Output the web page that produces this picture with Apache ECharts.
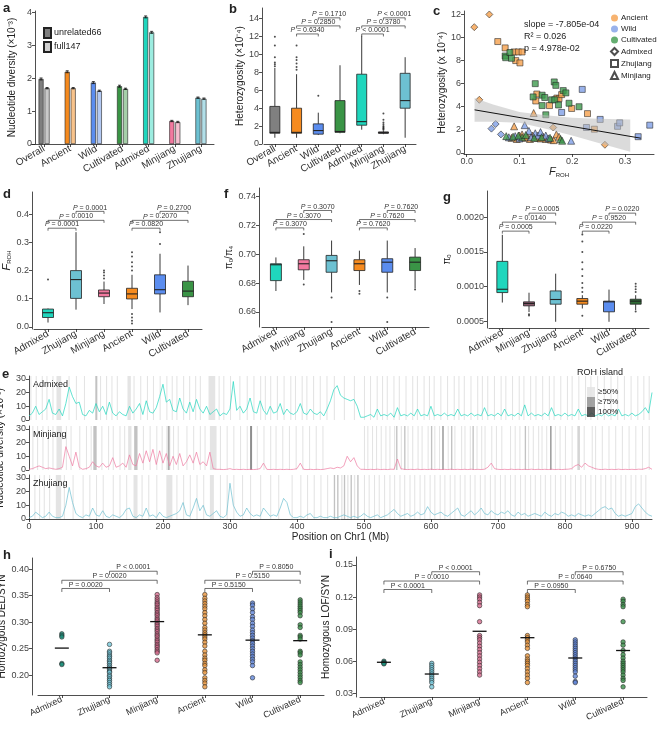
<!DOCTYPE html>
<html>
<head>
<meta charset="utf-8">
<script src="https://cdn.jsdelivr.net/npm/echarts@6/dist/echarts.min.js"></script>
<style>
html, body { margin: 0; padding: 0; background: #fff; }
#main { width: 657px; height: 731px; }
</style>
</head>
<body>
<div id="main"></div>
<script>
// ---------- panel a : nucleotide diversity ----------
var groupsA = ['Overall', 'Ancient', 'Wild', 'Cultivated', 'Admixed', 'Minjiang', 'Zhujiang'];
var piUnrelated = [1.98, 2.20, 1.87, 1.76, 3.87, 0.70, 1.41];
var piFull = [1.70, 1.70, 1.62, 1.68, 3.40, 0.67, 1.38];
var piErrUnrelated = [0.03, 0.03, 0.03, 0.03, 0.03, 0.02, 0.02];
var piErrFull = [0.02, 0.02, 0.02, 0.02, 0.03, 0.02, 0.02];
var darkCols = ['#7f7f7f', '#f58a1f', '#5b8def', '#399444', '#1fd6bd', '#f2799f', '#6dc1d2'];
var lightCols = ['#c9c9c9', '#f8c38c', '#b3c9f3', '#a5cfa8', '#9cece0', '#f7bfd0', '#b2dfe8'];
var ticksA = [0, 1, 2, 3, 4];

// ---------- panel b : heterozygosity boxes ----------
var hetBox = [
  [0.7, 1.2, 1.3, 4.2, 8.5],
  [0.7, 1.2, 1.3, 4.0, 7.8],
  [1.0, 1.1, 1.5, 2.25, 3.5],
  [1.2, 1.3, 1.4, 4.85, 8.8],
  [1.6, 2.1, 2.5, 7.8, 12.1],
  [1.1, 1.2, 1.25, 1.35, 1.5],
  [0.7, 4.0, 4.85, 7.9, 9.7]
];
var hetOut = [[0, 8.7], [0, 8.9], [0, 9.1], [0, 9.7], [0, 11.0], [0, 12.0],
  [1, 8.3], [1, 8.6], [1, 9.0], [1, 9.4], [1, 9.7], [1, 11.0],
  [2, 5.4], [5, 1.6], [5, 1.7], [5, 1.8], [5, 1.9], [5, 2.0], [5, 2.2], [5, 2.4], [5, 2.7], [5, 3.4]];
var hetCols = ['#808080', '#f68b1f', '#5b8def', '#3a9446', '#1fd6bd', '#3b2b33', '#6dc1d2'];
var hetP = [[1, 2, 12.3, '= 0.6340'], [1, 3, 13.2, '= 0.2850'], [2, 3, 14.1, '= 0.1710'],
  [4, 5, 12.3, '< 0.0001'], [4, 6, 13.2, '= 0.3780'], [5, 6, 14.1, '< 0.0001']];
var ticksB = [0, 2, 4, 6, 8, 10, 12, 14];

// ---------- panel c : heterozygosity vs F_ROH ----------
var cAncDia = [[0.0145, 10.9], [0.043, 12.0], [0.024, 4.6], [0.164, 2.2], [0.262, 0.7]];
var cWildDia = [[0.047, 2.1], [0.055, 2.5], [0.065, 1.6]];
var cAncSq = [[0.059, 9.65], [0.073, 9.1], [0.090, 8.75], [0.098, 8.75], [0.105, 8.75], [0.093, 8.0], [0.101, 7.8],
  [0.133, 5.1], [0.131, 4.5], [0.157, 4.1], [0.171, 4.75], [0.175, 4.7], [0.18, 5.05], [0.199, 3.85], [0.229, 3.4], [0.242, 2.05]];
var cCulSq = [[0.073, 8.4], [0.074, 8.25], [0.082, 8.7], [0.085, 8.2], [0.126, 4.85], [0.13, 6.0], [0.143, 5.0], [0.148, 4.8],
  [0.143, 4.1], [0.15, 3.3], [0.166, 6.15], [0.169, 5.85], [0.161, 4.6], [0.167, 4.6], [0.174, 4.15], [0.183, 5.4],
  [0.188, 5.2], [0.194, 4.3], [0.213, 4.0]];
var cWildSq = [[0.219, 5.5], [0.18, 3.5], [0.253, 2.9], [0.325, 1.4], [0.347, 2.4], [0.227, 2.2], [0.286, 2.3], [0.29, 2.6]];
var cAncTri = [[0.09, 2.3], [0.127, 3.45], [0.10, 1.5], [0.105, 1.6], [0.11, 1.3], [0.115, 1.4], [0.12, 1.2], [0.125, 1.5],
  [0.135, 1.3], [0.14, 1.25], [0.15, 1.2], [0.16, 1.15], [0.165, 1.1], [0.17, 1.6], [0.175, 1.4], [0.085, 1.3], [0.095, 1.2], [0.145, 1.4]];
var cWildTri = [[0.11, 2.4], [0.118, 1.9], [0.13, 1.7], [0.135, 1.5], [0.14, 1.8], [0.15, 1.5], [0.155, 1.25], [0.08, 1.35],
  [0.092, 1.45], [0.1, 1.25], [0.198, 1.05], [0.122, 1.35]];
var cCulTri = [[0.075, 1.45], [0.088, 1.4], [0.105, 1.35], [0.112, 1.55], [0.128, 1.3], [0.142, 1.35], [0.158, 1.3],
  [0.178, 1.2], [0.181, 1.05], [0.098, 1.5]];
var fitLine = [[0.015, 3.73], [0.33, 1.27]];
var bandX = [0.015, 0.05, 0.10, 0.15, 0.20, 0.25, 0.31];
var bandUpper = [4.75, 4.2, 3.55, 3.25, 3.05, 2.95, 2.9];
var bandLower = [2.7, 2.7, 2.6, 2.1, 1.5, 0.85, 0.1];
var ticksCx = [0, 0.1, 0.2, 0.3];
var ticksCy = [0, 2, 4, 6, 8, 10, 12];

// ---------- panel d : F_ROH ----------
var groupsD = ['Admixed', 'Zhujiang', 'Minjiang', 'Ancient', 'Wild', 'Cultivated'];
var colsD = ['#1fd6bd', '#6dc1d2', '#f2799f', '#f68b1f', '#5b8def', '#3a9446'];
var frohBox = [
  [0.015, 0.033, 0.05, 0.063, 0.065],
  [0.061, 0.101, 0.168, 0.2, 0.337],
  [0.081, 0.107, 0.12, 0.131, 0.161],
  [0.063, 0.099, 0.117, 0.137, 0.185],
  [0.051, 0.117, 0.132, 0.185, 0.26],
  [0.077, 0.107, 0.127, 0.162, 0.218]
];
var frohOut = [[0, 0.168], [2, 0.172], [2, 0.183], [2, 0.193], [2, 0.2],
  [3, 0.2], [3, 0.215], [3, 0.23], [3, 0.25], [3, 0.265], [3, 0.045], [3, 0.033], [3, 0.021], [3, 0.012],
  [4, 0.295], [4, 0.337]];
var frohP = [[0, 1, 0.351, '= 0.0001'], [0, 2, 0.379, '= 0.0010'], [1, 2, 0.411, '= 0.0001'],
  [3, 4, 0.351, '= 0.0820'], [3, 5, 0.379, '= 0.2070'], [4, 5, 0.411, '= 0.2700']];
var ticksD = [0, 0.1, 0.2, 0.3, 0.4];

// ---------- panel f : pi0/pi4 ----------
var groupsF = ['Admixed', 'Minjiang', 'Zhujiang', 'Ancient', 'Wild', 'Cultivated'];
var colsF = ['#1fd6bd', '#f2799f', '#6dc1d2', '#f68b1f', '#5b8def', '#3a9446'];
var ratioBox = [
  [0.6745, 0.6817, 0.6927, 0.6934, 0.6978],
  [0.6822, 0.6892, 0.6934, 0.6962, 0.7055],
  [0.6735, 0.6875, 0.6955, 0.6992, 0.7095],
  [0.6787, 0.6887, 0.6934, 0.6962, 0.7025],
  [0.6735, 0.6875, 0.6945, 0.6969, 0.7095],
  [0.6763, 0.6887, 0.6945, 0.698, 0.7043]
];
var ratioOut = [[1, 0.679], [1, 0.714], [2, 0.670], [2, 0.653], [3, 0.6745], [3, 0.6726], [4, 0.670], [4, 0.653], [5, 0.6755]];
var ratioP = [[0, 1, 0.7183, '= 0.3070'], [0, 2, 0.7241, '= 0.3070'], [1, 2, 0.7304, '= 0.3070'],
  [3, 4, 0.7183, '= 0.7620'], [3, 5, 0.7241, '= 0.7620'], [4, 5, 0.7304, '= 0.7620']];
var ticksF = [0.66, 0.68, 0.70, 0.72, 0.74];

// ---------- panel g : pi0 ----------
var colsG = ['#1fd6bd', '#8c5a6e', '#6dc1d2', '#f68b1f', '#5b8def', '#2e6b35'];
var pi0Box = [
  [0.000768, 0.000912, 0.00096, 0.001363, 0.001746],
  [0.00063, 0.00072, 0.000754, 0.000778, 0.00091],
  [0.00049, 0.000744, 0.000812, 0.000936, 0.001185],
  [0.000682, 0.000744, 0.000788, 0.000826, 0.000874],
  [0.00049, 0.000634, 0.000778, 0.000788, 0.000955],
  [0.000658, 0.000744, 0.000788, 0.000816, 0.000874]
];
var pi0Out = [[1, 0.0006], [1, 0.00058],
  [3, 0.000577], [3, 0.00092], [3, 0.00098], [3, 0.00105], [3, 0.00115], [3, 0.00125], [3, 0.00135], [3, 0.0015], [3, 0.00165], [3, 0.00175],
  [5, 0.00092], [5, 0.00096], [5, 0.001], [5, 0.00104], [5, 0.00064]];
var pi0P = [[0, 1, 0.0018, '= 0.0005'], [0, 2, 0.00193, '= 0.0140'], [1, 2, 0.00206, '= 0.0005'],
  [3, 4, 0.0018, '= 0.0220'], [3, 5, 0.00193, '= 0.9520'], [4, 5, 0.00206, '= 0.0220']];
var ticksG = [0.0005, 0.0010, 0.0015, 0.0020];

// ---------- panel e : diversity along Chr1 (5-Mb steps) ----------
var stepMb = 5;
var admixPi = [3, 5, 10, 4, 6, 8, 15, 5, 4, 8, 3, 12, 24, 17, 12, 13, 4, 3, 7, 5,
  12, 6, 10, 4, 13, 5, 3, 6, 4, 3, 10, 5, 8, 12, 4, 14, 6, 5, 9, 17,
  26, 13, 15, 7, 6, 16, 8, 5, 13, 6, 15, 8, 5, 10, 4, 6, 8, 3, 5, 4,
  8, 28, 7, 10, 5, 8, 16, 6, 5, 14, 7, 4, 10, 5, 6, 12, 4, 8, 5, 4,
  6, 12, 5, 4, 8, 5, 4, 6, 3, 8, 14, 22, 25, 18, 16, 15, 14, 15, 10, 2,
  2, 3, 4, 2, 8, 3, 4, 3, 5, 2, 9, 3, 4, 3, 5, 3, 8, 3, 4, 3,
  10, 3, 4, 3, 5, 3, 4, 3, 8, 3, 4, 3, 5, 3, 4, 3, 9, 3, 4, 3,
  5, 3, 8, 3, 4, 3, 5, 3, 11, 3, 5, 3, 4, 3, 5, 3, 9, 3, 4, 3,
  5, 3, 4, 3, 8, 3, 4, 3, 5, 3, 4, 3, 5, 3, 4, 3, 8, 3, 4, 3,
  5, 3, 4, 6, 9, 5, 20];
var minjPi = [0.5, 1, 2, 3, 2, 1, 1.5, 1, 0.5, 1, 2, 17, 10, 3, 13, 2, 0.5, 1, 2, 6,
  3, 2, 5, 2, 3, 9, 2, 3, 5, 2, 11, 4, 3, 12, 5, 14, 6, 15, 4, 14,
  5, 12, 3, 10, 4, 12, 3, 6, 11, 5, 13, 4, 6, 3, 13, 1, 0.5, 0.5, 0.3, 0.5,
  1, 0.3, 0.5, 0.3, 0.5, 0.3, 0.5, 0.3, 0.5, 1, 5, 0.5, 0.3, 0.5, 0.3, 0.5, 0.3, 0.5, 0.3, 0.5,
  1, 5, 0.5, 0.3, 0.5, 0.3, 0.5, 0.3, 0.5, 1, 1.5, 1, 2, 1.5, 3, 10, 6, 9, 3, 0.5,
  0.5, 0.3, 0.5, 0.3, 0.6, 0.3, 0.5, 0.3, 0.6, 0.5, 8, 1, 0.5, 0.3, 0.5, 0.3, 0.6, 0.3, 0.5, 0.3,
  0.6, 0.3, 0.5, 0.3, 0.5, 0.3, 0.6, 0.3, 0.5, 0.3, 0.5, 0.3, 0.6, 0.3, 0.5, 0.3, 0.6, 2, 5, 1,
  0.5, 0.3, 0.5, 0.3, 0.6, 0.3, 0.5, 0.3, 0.5, 0.3, 0.6, 0.3, 0.5, 0.3, 0.5, 0.3, 0.6, 0.3, 0.5, 0.3,
  0.5, 0.6, 1, 3, 4, 2, 5, 3, 2, 1, 0.5, 0.3, 0.6, 0.3, 0.5, 0.3, 0.6, 0.3, 0.5, 0.3,
  0.5, 0.3, 0.6, 0.5, 1, 2, 0.5];
var zhuPi = [1, 2, 5, 3, 1, 2, 5, 2, 1, 1, 2, 10, 23, 12, 4, 2, 1, 3, 2, 8,
  3, 2, 6, 2, 1, 3, 2, 1, 3, 7, 8, 2, 1, 3, 2, 8, 2, 3, 1, 5,
  2, 1, 2, 3, 4, 6, 12, 3, 2, 8, 15, 6, 10, 3, 2, 4, 6, 2, 1, 3,
  26, 10, 5, 2, 3, 8, 4, 2, 3, 2, 8, 5, 2, 3, 2, 8, 15, 12, 3, 1,
  1, 2, 1, 3, 4, 1, 1, 2, 1, 1, 2, 1, 1, 2, 3, 2, 1, 2, 1, 2,
  4, 2, 1, 2, 3, 1, 2, 3, 5, 7, 4, 2, 3, 4, 2, 3, 5, 3, 4, 9,
  5, 3, 4, 5, 3, 2, 4, 6, 8, 3, 2, 4, 6, 3, 5, 8, 4, 3, 6, 4,
  3, 5, 4, 6, 3, 2, 5, 3, 4, 2, 3, 4, 3, 2, 5, 3, 2, 4, 3, 5,
  4, 2, 3, 2, 4, 3, 2, 3, 2, 4, 6, 8, 9, 7, 8, 4, 2, 3, 2, 3,
  4, 9, 11, 8, 5, 3, 2];
// ROH islands: thin stripes (start, Mb) and wider/darker ones [start, end, level]
var admixThin = [2, 10, 19, 26, 35, 59, 70, 82, 106, 115, 123, 131, 156, 166, 176, 185, 195, 205, 213, 220, 230, 239, 248, 255,
  283, 290, 300, 314, 325, 335, 345, 352, 360, 370, 380, 390, 397, 407, 414, 424, 434, 444, 455, 470, 485, 500, 509, 519,
  527, 534, 544, 552, 562, 572, 579, 589, 597, 604, 614, 624, 634, 641, 649, 659, 669, 676, 684, 694, 704, 711, 721, 731,
  738, 748, 756, 766, 776, 783, 793, 803, 810, 820, 830, 838, 848, 858, 868, 878, 888, 898, 908, 917, 925];
var admixWide = [[41, 48, 0], [99, 102, 1], [147, 152, 0], [268, 278, 0]];
var minjThin = [5, 12, 20, 28, 35, 55, 62, 75, 85, 92, 108, 118, 125, 135, 142, 170, 180, 190, 198, 215, 222, 235, 245, 255,
  262, 285, 295, 305, 315, 325, 340, 350, 360, 368, 378, 388, 398, 408, 418, 428, 438, 500, 505, 512, 518, 525, 532, 538,
  545, 555, 565, 572, 580, 586, 595, 605, 612, 625, 635, 645, 650, 658, 668, 675, 680, 690, 697, 705, 718, 725, 732, 745,
  752, 760, 765, 772, 785, 792, 800, 810, 818, 828, 840, 845, 855, 865, 875, 885, 895, 905, 915, 925];
var minjWide = [[41, 49, 0], [96, 101, 1], [148, 153, 0], [157, 162, 1], [205, 211, 0], [208, 209.5, 2], [270, 280, 0],
  [330, 333, 2], [548, 550, 1], [560, 562, 1], [600, 602, 1], [617, 619, 2], [630, 632, 1], [662, 664, 1], [740, 742, 1],
  [778, 780, 2], [820, 822, 1]];
var zhuThin = [8, 15, 22, 30, 52, 65, 80, 90, 100, 110, 125, 135, 145, 168, 178, 190, 220, 230, 240, 250, 260, 285, 295, 305,
  318, 330, 345, 360, 372, 392, 405, 415, 425, 435, 445, 500, 507, 515, 522, 530, 538, 545, 553, 560, 568, 575, 583, 590,
  598, 605, 613, 620, 628, 635, 643, 650, 658, 665, 673, 680, 688, 695, 703, 710, 718, 725, 733, 740, 748, 755, 763, 770,
  778, 785, 793, 800, 808, 815, 823, 830, 838, 845, 853, 860, 868, 875, 883, 890, 898, 905, 913, 920];
var zhuWide = [[40, 48, 0], [156, 162, 0], [205, 214, 0], [270, 276, 0], [455, 457, 1], [460, 462, 1], [466, 468, 0],
  [470, 472, 1], [475, 477, 0], [480, 482, 1], [485, 487, 0], [490, 492, 1]];
var ticksEy = [0, 10, 20, 30];
var ticksEx = [0, 100, 200, 300, 400, 500, 600, 700, 800, 900];

// ---------- panels h / i : homozygous burden ----------
var groupsH = ['Admixed', 'Zhujiang', 'Minjiang', 'Ancient', 'Wild', 'Cultivated'];
var colsH = ['#1b8f7a', '#73c6d8', '#d46a8c', '#e8943a', '#5f85d8', '#3a8f48'];
var delAdmixed = [0.278, 0.275, 0.272, 0.222, 0.220];
var delZhujiang = [0.258, 0.245, 0.242, 0.238, 0.235, 0.232, 0.228, 0.225, 0.222, 0.218, 0.215, 0.212, 0.21, 0.207, 0.205,
  0.2, 0.197, 0.193, 0.19, 0.186, 0.182, 0.178];
var delMinjiang = [0.352, 0.346, 0.342, 0.338, 0.335, 0.332, 0.328, 0.325, 0.322, 0.318, 0.315, 0.312, 0.308, 0.305, 0.302,
  0.298, 0.295, 0.292, 0.288, 0.285, 0.282, 0.278, 0.275, 0.272, 0.268, 0.265, 0.262, 0.258, 0.255, 0.252, 0.248, 0.245, 0.242, 0.228];
var delAncient = [0.352, 0.345, 0.34, 0.335, 0.33, 0.325, 0.318, 0.312, 0.305, 0.298, 0.29, 0.285, 0.28, 0.276, 0.272, 0.268,
  0.262, 0.255, 0.245, 0.238, 0.232, 0.228, 0.222, 0.218, 0.21, 0.205, 0.195, 0.19, 0.185, 0.178];
var delWild = [0.336, 0.332, 0.325, 0.318, 0.31, 0.305, 0.298, 0.292, 0.285, 0.28, 0.275, 0.27, 0.265, 0.26, 0.255, 0.25,
  0.245, 0.24, 0.235, 0.23, 0.225, 0.218, 0.195];
var delCultivated = [0.342, 0.338, 0.334, 0.33, 0.326, 0.322, 0.318, 0.312, 0.295, 0.29, 0.275, 0.272, 0.268, 0.245, 0.242,
  0.238, 0.225, 0.22, 0.215, 0.21, 0.205, 0.2, 0.195, 0.19, 0.186];
var delMeans = [0.251, 0.214, 0.301, 0.276, 0.266, 0.265];
var delP = [[0, 1, 0.3635, '= 0.0020'], [0, 2, 0.379, '= 0.0020'], [1, 2, 0.396, '< 0.0001'],
  [3, 4, 0.3635, '= 0.5150'], [3, 5, 0.379, '= 0.5150'], [4, 5, 0.396, '= 0.8050']];
var ticksH = [0.20, 0.25, 0.30, 0.35, 0.40];

var lofAdmixed = [0.060, 0.059, 0.058, 0.0575];
var lofZhujiang = [0.058, 0.056, 0.054, 0.052, 0.05, 0.048, 0.046, 0.044, 0.042, 0.04, 0.036];
var lofMinjiang = [0.122, 0.12, 0.118, 0.115, 0.112, 0.097, 0.084, 0.082, 0.08, 0.077, 0.074, 0.071, 0.068, 0.065, 0.062,
  0.059, 0.056, 0.053, 0.05, 0.047];
var lofAncient = [0.122, 0.12, 0.118, 0.116, 0.113, 0.111, 0.084, 0.082, 0.08, 0.078, 0.075, 0.072, 0.065, 0.062, 0.06,
  0.058, 0.056, 0.053, 0.05, 0.047, 0.044, 0.04];
var lofWild = [0.08, 0.078, 0.076, 0.074, 0.072, 0.07, 0.068, 0.066, 0.064, 0.062, 0.06, 0.058, 0.056, 0.054, 0.052, 0.05,
  0.046, 0.041, 0.04];
var lofCultivated = [0.118, 0.116, 0.113, 0.111, 0.097, 0.078, 0.075, 0.07, 0.066, 0.063, 0.06, 0.058, 0.056, 0.054, 0.052,
  0.05, 0.047, 0.044, 0.042, 0.036];
var lofMeans = [0.059, 0.048, 0.088, 0.082, 0.063, 0.07];
var lofP = [[0, 1, 0.1271, '< 0.0001'], [0, 2, 0.135, '= 0.0010'], [1, 2, 0.1437, '< 0.0001'],
  [3, 4, 0.1271, '= 0.0950'], [3, 5, 0.135, '= 0.0640'], [4, 5, 0.1437, '= 0.6750']];
var ticksI = [0.03, 0.06, 0.09, 0.12, 0.15];

// ====================================================================
var FONT = '"Liberation Sans", Arial, sans-serif';
var INK = '#222';

function valAxis(grid, min, max, ticks, dec, extra) {
  var ax = {
    type: 'value', gridIndex: grid, min: min, max: max,
    splitLine: { show: false },
    axisLine: { show: true, onZero: false, lineStyle: { color: INK, width: 0.8 } },
    axisTick: { show: true, length: 3, customValues: ticks, lineStyle: { color: INK, width: 0.8 } },
    axisLabel: { fontSize: 9, color: '#444', margin: 3, customValues: ticks,
      formatter: function (v) { return (+v).toFixed(dec); } },
    nameLocation: 'middle',
    nameTextStyle: { fontSize: 10, color: INK }
  };
  for (var k in extra) ax[k] = extra[k];
  return ax;
}
function catAxis(grid, cats, rot, fs, extra) {
  var ax = {
    type: 'category', gridIndex: grid, data: cats, boundaryGap: true,
    splitLine: { show: false },
    axisLine: { show: true, onZero: false, lineStyle: { color: INK, width: 0.8 } },
    axisTick: { show: true, alignWithLabel: true, length: 3, lineStyle: { color: INK, width: 0.8 } },
    axisLabel: { interval: 0, rotate: rot, fontSize: fs, color: '#333', margin: 4 }
  };
  for (var k in extra) ax[k] = extra[k];
  return ax;
}
var frohName = { name: '{f|F}{s|ROH}', nameTextStyle: { color: INK,
  rich: { f: { fontStyle: 'italic', fontSize: 11, color: INK }, s: { fontSize: 6, color: INK, padding: [6, 0, 0, 0] } } } };

function boxSeries(ax, boxes, cols, w) {
  return {
    type: 'custom', xAxisIndex: ax, yAxisIndex: ax, z: 3, silent: true,
    data: boxes.map(function (b, i) { return [i].concat(b); }),
    encode: { x: 0, y: [1, 2, 3, 4, 5] },
    renderItem: function (params, api) {
      var i = params.dataIndex, b = boxes[i];
      var lo = api.coord([i, b[0]]), q1 = api.coord([i, b[1]]), md = api.coord([i, b[2]]),
        q3 = api.coord([i, b[3]]), hi = api.coord([i, b[4]]);
      var x = lo[0];
      var st = { stroke: INK, lineWidth: 0.9 };
      return { type: 'group', children: [
        { type: 'line', shape: { x1: x, y1: lo[1], x2: x, y2: q1[1] }, style: st },
        { type: 'line', shape: { x1: x, y1: q3[1], x2: x, y2: hi[1] }, style: st },
        { type: 'rect', shape: { x: x - w / 2, y: q3[1], width: w, height: Math.max(q1[1] - q3[1], 1) },
          style: { fill: cols[i], stroke: INK, lineWidth: 0.8 } },
        { type: 'line', shape: { x1: x - w / 2, y1: md[1], x2: x + w / 2, y2: md[1] }, style: { stroke: INK, lineWidth: 1.1 } }
      ] };
    }
  };
}
function dotSeries(ax, pts) {
  return { type: 'scatter', xAxisIndex: ax, yAxisIndex: ax, data: pts, symbolSize: 2, silent: true,
    itemStyle: { color: INK }, z: 4 };
}
function bracketSeries(ax, list, italic, tick) {
  return {
    type: 'custom', xAxisIndex: ax, yAxisIndex: ax, clip: false, silent: true, z: 5,
    data: list.map(function (b) { return [b[0], b[2]]; }),
    renderItem: function (params, api) {
      var b = list[params.dataIndex];
      var p1 = api.coord([b[0], b[2]]), p2 = api.coord([b[1], b[2]]);
      var txt = italic ? '{i|P} ' + b[3] : 'P ' + b[3];
      return { type: 'group', children: [
        { type: 'polyline', shape: { points: [[p1[0], p1[1] + tick], [p1[0], p1[1]], [p2[0], p2[1]], [p2[0], p2[1] + tick]] },
          style: { stroke: '#333', lineWidth: 0.7, fill: null } },
        { type: 'text', x: (p1[0] + p2[0]) / 2, y: p1[1] - 0.3,
          style: { text: txt, fontSize: 7, fontFamily: FONT, fill: '#333', align: 'center', verticalAlign: 'bottom',
            rich: { i: { fontStyle: 'italic', fontSize: 7, fontFamily: FONT, fill: '#333' } } } }
      ] };
    }
  };
}
function meanSeries(ax, means) {
  return {
    type: 'custom', xAxisIndex: ax, yAxisIndex: ax, z: 6, silent: true,
    data: means.map(function (m, i) { return [i, m]; }),
    renderItem: function (params, api) {
      var p = api.coord([api.value(0), api.value(1)]);
      return { type: 'line', shape: { x1: p[0] - 7, y1: p[1], x2: p[0] + 7, y2: p[1] }, style: { stroke: '#111', lineWidth: 1.3 } };
    }
  };
}
function burdenSeries(ax, cols, lists) {
  return lists.map(function (vals, i) {
    return { type: 'scatter', xAxisIndex: ax, yAxisIndex: ax, silent: true, symbolSize: 4.5,
      data: vals.map(function (v) { return [i, v]; }),
      itemStyle: { color: cols[i], borderColor: '#222', borderWidth: 0.7 } };
  });
}
var islandCols = ['#e4e4e4', '#c2c2c2', '#8e8e8e'];
function islandSeries(ax, thin, wide) {
  var data = thin.map(function (s) { return [s, s + 1.6, 0]; }).concat(wide);
  return {
    type: 'custom', xAxisIndex: ax, yAxisIndex: ax, z: 1, silent: true, clip: true,
    data: data,
    renderItem: function (params, api) {
      var d = data[params.dataIndex];
      var a = api.coord([d[0], 32]), b = api.coord([d[1], 0]);
      return { type: 'rect', shape: { x: a[0], y: a[1], width: Math.max(b[0] - a[0], 0.8), height: b[1] - a[1] },
        style: { fill: islandCols[d[2]] } };
    }
  };
}
function piLine(ax, vals, color) {
  return { type: 'line', xAxisIndex: ax, yAxisIndex: ax, z: 3, silent: true, showSymbol: false,
    data: vals.map(function (v, i) { return [i * stepMb, v]; }),
    lineStyle: { color: color, width: 0.7 } };
}
function errSeries(ax, vals, errs, off) {
  return {
    type: 'custom', xAxisIndex: ax, yAxisIndex: ax, z: 4, silent: true,
    data: vals.map(function (v, i) { return [i, v, errs[i]]; }),
    renderItem: function (params, api) {
      var i = api.value(0), v = api.value(1), e = api.value(2);
      var t = api.coord([i, v + e]), b = api.coord([i, v - e]);
      var x = t[0] + off;
      var st = { stroke: '#111', lineWidth: 0.8 };
      return { type: 'group', children: [
        { type: 'line', shape: { x1: x, y1: t[1], x2: x, y2: b[1] }, style: st },
        { type: 'line', shape: { x1: x - 1.5, y1: t[1], x2: x + 1.5, y2: t[1] }, style: st },
        { type: 'line', shape: { x1: x - 1.5, y1: b[1], x2: x + 1.5, y2: b[1] }, style: st }
      ] };
    }
  };
}

var cAnc = '#f5a04c', cWild = '#7f9fe6', cCul = '#3f9a4e';
function cScatter(pts, color, symbol, size) {
  return { type: 'scatter', xAxisIndex: 2, yAxisIndex: 2, z: 3, silent: true, data: pts, symbol: symbol, symbolSize: size,
    itemStyle: { color: color, borderColor: '#222', borderWidth: 0.7 } };
}
function legendDummy(name, ax, symbol, style) {
  return { type: 'scatter', name: name, xAxisIndex: ax, yAxisIndex: ax, data: [], symbol: symbol, itemStyle: style };
}

var grids = [
  { left: 31, top: 11, width: 183, height: 133 },     // a
  { left: 264, top: 8, width: 152, height: 136 },     // b
  { left: 464, top: 11, width: 190, height: 143 },    // c
  { left: 34, top: 192, width: 168, height: 137 },    // d
  { left: 262, top: 188, width: 167, height: 139 },   // f
  { left: 489, top: 191, width: 160, height: 137 },   // g
  { left: 29, top: 376, width: 623, height: 44 },     // e1
  { left: 29, top: 426, width: 623, height: 44 },     // e2
  { left: 29, top: 475, width: 623, height: 44 },     // e3
  { left: 38, top: 558, width: 286, height: 137 },    // h
  { left: 360, top: 557, width: 287, height: 140 }    // i
];
grids.forEach(function (g) { g.containLabel = false; g.outerBoundsMode = 'none'; });

var xAxes = [
  catAxis(0, groupsA, 30, 10),
  catAxis(1, ['Overall', 'Ancient', 'Wild', 'Cultivated', 'Admixed', 'Minjiang', 'Zhujiang'], 30, 10),
  valAxis(2, -0.005, 0.355, ticksCx, 1, { name: '{f|F}{s|ROH}', nameGap: 12,
    nameTextStyle: { color: INK, rich: { f: { fontStyle: 'italic', fontSize: 11, color: INK }, s: { fontSize: 6, color: INK, padding: [6, 0, 0, 0] } } } }),
  catAxis(3, groupsD, 30, 10),
  catAxis(4, groupsF, 30, 10),
  catAxis(5, groupsF, 30, 10),
  valAxis(6, 0, 930, ticksEx, 0, { show: false }),
  valAxis(7, 0, 930, ticksEx, 0, { show: false }),
  valAxis(8, 0, 930, ticksEx, 0, { name: 'Position on Chr1 (Mb)', nameGap: 13 }),
  catAxis(9, groupsH, 25, 9),
  catAxis(10, groupsH, 25, 9)
];
var yAxes = [
  valAxis(0, 0, 4.05, ticksA, 0, { offset: -4, name: 'Nucleotide diversity (×10⁻³)', nameGap: 18 }),
  valAxis(1, 0, 15.2, ticksB, 0, { offset: 2, name: 'Heterozygosity (×10⁻⁴)', nameGap: 16 }),
  valAxis(2, -0.1, 12.3, ticksCy, 0, { name: 'Heterozygosity (x 10⁻⁴)', nameGap: 14 }),
  valAxis(3, -0.008, 0.48, ticksD, 1, { offset: 2, name: frohName.name, nameGap: 16, nameTextStyle: frohName.nameTextStyle }),
  valAxis(4, 0.6495, 0.746, ticksF, 2, { offset: 3, name: '{p|π}{s|0}{p|/π}{s|4}', nameGap: 24,
    nameTextStyle: { color: INK, rich: { p: { fontSize: 10, color: INK }, s: { fontSize: 6, color: INK, padding: [5, 0, 0, 0] } } } }),
  valAxis(5, 0.0004, 0.00238, ticksG, 4, { offset: 2, name: '{p|π}{s|0}', nameGap: 32,
    nameTextStyle: { color: INK, rich: { p: { fontSize: 10, color: INK }, s: { fontSize: 6, color: INK, padding: [5, 0, 0, 0] } } } }),
  valAxis(6, 0, 32, ticksEy, 0, {}),
  valAxis(7, 0, 32, ticksEy, 0, { name: 'Nucleotide diversity (×10⁻³)', nameGap: 16 }),
  valAxis(8, 0, 32, ticksEy, 0, {}),
  valAxis(9, 0.1625, 0.421, ticksH, 2, { offset: 6, name: 'Homozygous DEL/SYN', nameGap: 19 }),
  valAxis(10, 0.0265, 0.1575, ticksI, 2, { offset: 4, name: 'Homozygous LOF/SYN', nameGap: 19 })
];

var series = [];
// a
series.push({ type: 'bar', name: 'unrelated66', xAxisIndex: 0, yAxisIndex: 0, barWidth: 5, barGap: '20%', silent: true,
  itemStyle: { color: '#7f7f7f', borderColor: '#222', borderWidth: 0.6 },
  data: piUnrelated.map(function (v, i) { return { value: v, itemStyle: { color: darkCols[i], borderColor: '#222', borderWidth: 0.6 } }; }) });
series.push({ type: 'bar', name: 'full147', xAxisIndex: 0, yAxisIndex: 0, barWidth: 5, barGap: '20%', silent: true,
  itemStyle: { color: '#cfcfcf', borderColor: '#222', borderWidth: 0.6 },
  data: piFull.map(function (v, i) { return { value: v, itemStyle: { color: lightCols[i], borderColor: '#222', borderWidth: 0.6 } }; }) });
series.push(errSeries(0, piUnrelated, piErrUnrelated, -3));
series.push(errSeries(0, piFull, piErrFull, 3));
// b
series.push(boxSeries(1, hetBox, hetCols, 10));
series.push(dotSeries(1, hetOut));
series.push(bracketSeries(1, hetP, true, 2.5));
// c
series.push(cScatter(cAncDia, cAnc, 'diamond', 7));
series.push(cScatter(cWildDia, cWild, 'diamond', 7));
series.push(cScatter(cAncSq, cAnc, 'rect', 6));
series.push(cScatter(cCulSq, cCul, 'rect', 6));
series.push(cScatter(cWildSq, cWild, 'rect', 6));
series.push(cScatter(cAncTri, cAnc, 'triangle', 7));
series.push(cScatter(cWildTri, cWild, 'triangle', 7));
series.push(cScatter(cCulTri, cCul, 'triangle', 7));
series.push({
  type: 'custom', xAxisIndex: 2, yAxisIndex: 2, z: 7, silent: true, data: [[bandX[0], bandUpper[0]]],
  renderItem: function (params, api) {
    var pts = [];
    bandX.forEach(function (x, i) { pts.push(api.coord([x, bandUpper[i]])); });
    for (var i = bandX.length - 1; i >= 0; i--) pts.push(api.coord([bandX[i], bandLower[i]]));
    return { type: 'polygon', shape: { points: pts }, style: { fill: 'rgba(190,190,190,0.55)' } };
  }
});
series.push({ type: 'line', xAxisIndex: 2, yAxisIndex: 2, z: 8, silent: true, showSymbol: false, data: fitLine,
  lineStyle: { color: '#111', width: 1 } });
series.push(legendDummy('Ancient', 2, 'circle', { color: cAnc }));
series.push(legendDummy('Wild', 2, 'circle', { color: cWild }));
series.push(legendDummy('Cultivated', 2, 'circle', { color: cCul }));
series.push(legendDummy('Admixed', 2, 'diamond', { color: '#fff', borderColor: '#222', borderWidth: 1 }));
series.push(legendDummy('Zhujiang', 2, 'rect', { color: '#fff', borderColor: '#222', borderWidth: 1 }));
series.push(legendDummy('Minjiang', 2, 'triangle', { color: '#fff', borderColor: '#222', borderWidth: 1 }));
// d
series.push(boxSeries(3, frohBox, colsD, 11));
series.push(dotSeries(3, frohOut));
series.push(bracketSeries(3, frohP, true, 2.5));
// f
series.push(boxSeries(4, ratioBox, colsF, 11));
series.push(dotSeries(4, ratioOut));
series.push(bracketSeries(4, ratioP, true, 2.5));
// g
series.push(boxSeries(5, pi0Box, colsG, 11));
series.push(dotSeries(5, pi0Out));
series.push(bracketSeries(5, pi0P, true, 2.5));
// e
series.push(islandSeries(6, admixThin, admixWide));
series.push(islandSeries(7, minjThin, minjWide));
series.push(islandSeries(8, zhuThin, zhuWide));
series.push(piLine(6, admixPi, '#1fd6bd'));
series.push(piLine(7, minjPi, '#ee7aa0'));
series.push(piLine(8, zhuPi, '#6dbfd0'));
series.push(legendDummy('≥50%', 6, 'rect', { color: '#e2e2e2' }));
series.push(legendDummy('≥75%', 6, 'rect', { color: '#8c8c8c' }));
series.push(legendDummy('100%', 6, 'rect', { color: '#333' }));
// h
series = series.concat(burdenSeries(9, colsH, [delAdmixed, delZhujiang, delMinjiang, delAncient, delWild, delCultivated]));
series.push(meanSeries(9, delMeans));
series.push(bracketSeries(9, delP, false, 3.5));
// i
series = series.concat(burdenSeries(10, colsH, [lofAdmixed, lofZhujiang, lofMinjiang, lofAncient, lofWild, lofCultivated]));
series.push(meanSeries(10, lofMeans));
series.push(bracketSeries(10, lofP, false, 3.5));

function label(txt, x, y, size, bold) {
  return { type: 'text', x: x, y: y, silent: true, z: 100, zlevel: 0,
    style: { text: txt, fontSize: size, fontWeight: bold ? 'bold' : 'normal', fontFamily: FONT, fill: INK } };
}

var option = {
  animation: false,
  textStyle: { fontFamily: FONT },
  grid: grids,
  xAxis: xAxes,
  yAxis: yAxes,
  legend: [
    { data: ['unrelated66', 'full147'], left: 38, top: 22, orient: 'vertical', itemWidth: 7, itemHeight: 10, itemGap: 2,
      selectedMode: false, icon: 'rect', textStyle: { fontSize: 9, color: INK, padding: [0, 0, 0, -2] } },
    { data: ['Ancient', 'Wild', 'Cultivated', 'Admixed', 'Zhujiang', 'Minjiang'], left: 605, top: 9, orient: 'vertical',
      itemWidth: 7, itemHeight: 7, itemGap: 3, selectedMode: false, textStyle: { fontSize: 8, color: INK, padding: [0, 0, 0, -2] } },
    { data: ['≥50%', '≥75%', '100%'], left: 582, top: 382, orient: 'vertical', itemWidth: 8, itemHeight: 10, itemGap: 0,
      selectedMode: false, icon: 'rect', textStyle: { fontSize: 8, color: INK, padding: [0, 0, 0, -2] } }
  ],
  graphic: [
    label('a', 3, 2, 13, true), label('b', 229, 3, 13, true), label('c', 433, 5, 13, true),
    label('d', 3, 188, 13, true), label('f', 224, 188, 13, true), label('g', 443, 191, 13, true),
    label('e', 2, 368, 13, true), label('h', 3, 549, 13, true), label('i', 329, 548, 13, true),
    label('slope = -7.805e-04', 524, 20, 9), label('R² = 0.026', 524, 32, 9), label('p = 4.978e-02', 524, 44, 9),
    label('Admixed', 33, 380, 9), label('Minjiang', 33, 430, 9), label('Zhujiang', 33, 479, 9),
    label('ROH island', 577, 368, 9)
  ],
  series: series
};

var chart = echarts.init(document.getElementById('main'));
chart.setOption(option);
</script>
</body>
</html>
